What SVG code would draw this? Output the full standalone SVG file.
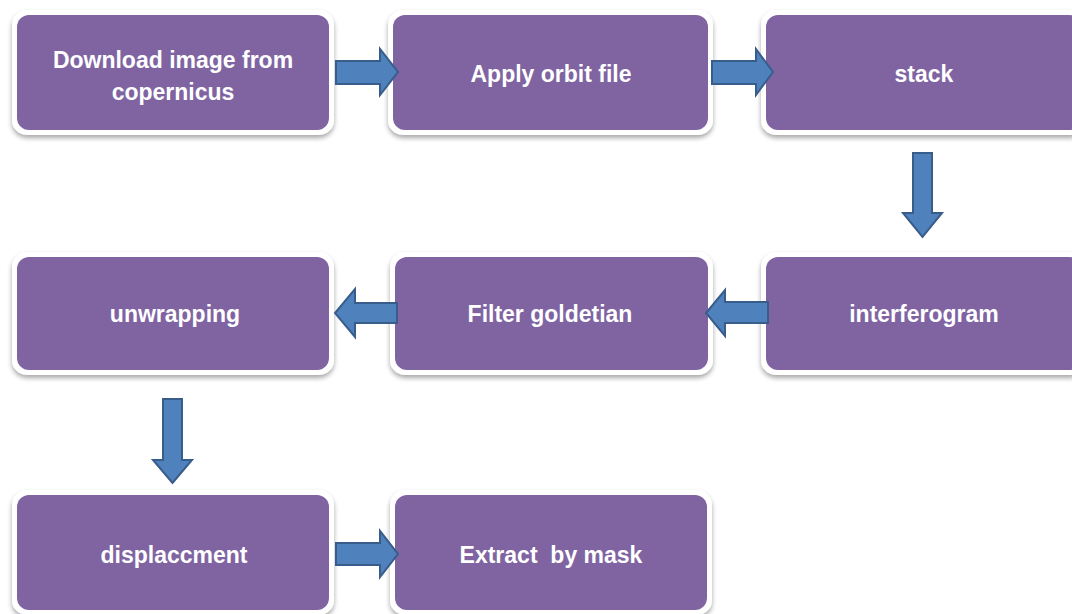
<svg xmlns="http://www.w3.org/2000/svg" width="1072" height="614" viewBox="0 0 1072 614">
<defs>
<filter id="sh" x="-10%" y="-10%" width="120%" height="130%">
<feGaussianBlur in="SourceAlpha" stdDeviation="2.5"/>
<feOffset dx="0" dy="3" result="b"/>
<feComponentTransfer><feFuncA type="linear" slope="0.35"/></feComponentTransfer>
<feMerge><feMergeNode/><feMergeNode in="SourceGraphic"/></feMerge>
</filter>
</defs>
<style>
.frame{fill:#ffffff;filter:url(#sh)}
.box{fill:#8064A2}
.lbl{font-family:"Liberation Sans",Arial,sans-serif;font-weight:bold;font-size:23px;fill:#ffffff;text-anchor:middle}
.arr{fill:#4F81BD;stroke:#385D8A;stroke-width:2;stroke-linejoin:miter}
</style>
<rect width="1072" height="614" fill="#ffffff"/>
<g id="n1"><rect class="frame" x="12" y="10" width="322" height="125" rx="15"/><rect class="box" x="17" y="15" width="312" height="115" rx="12"/><text class="lbl" x="173" y="68">Download image from</text><text class="lbl" x="173" y="100">copernicus</text></g>
<g id="n2"><rect class="frame" x="388" y="10" width="325" height="125" rx="15"/><rect class="box" x="393" y="15" width="315" height="115" rx="12"/><text class="lbl" x="551" y="82">Apply orbit file</text></g>
<g id="n3"><rect class="frame" x="761" y="10" width="325" height="125" rx="15"/><rect class="box" x="766" y="15" width="315" height="115" rx="12"/><text class="lbl" x="924" y="82">stack</text></g>
<g id="n4"><rect class="frame" x="12" y="252" width="322" height="123" rx="15"/><rect class="box" x="17" y="257" width="312" height="113" rx="12"/><text class="lbl" x="175" y="322">unwrapping</text></g>
<g id="n5"><rect class="frame" x="390" y="252" width="323" height="123" rx="15"/><rect class="box" x="395" y="257" width="313" height="113" rx="12"/><text class="lbl" x="550" y="322">Filter goldetian</text></g>
<g id="n6"><rect class="frame" x="761" y="252" width="325" height="123" rx="15"/><rect class="box" x="766" y="257" width="315" height="113" rx="12"/><text class="lbl" x="924" y="322">interferogram</text></g>
<g id="n7"><rect class="frame" x="12" y="490" width="322" height="125" rx="15"/><rect class="box" x="17" y="495" width="312" height="115" rx="12"/><text class="lbl" x="174" y="563">displaccment</text></g>
<g id="n8"><rect class="frame" x="390" y="490" width="322" height="125" rx="15"/><rect class="box" x="395" y="495" width="312" height="115" rx="12"/><text class="lbl" x="551" y="563" style="white-space:pre">Extract  by mask</text></g>
<g id="connectors">
<polygon class="arr" points="336,61 380,61 380,49 398,72 380,95 380,84 336,84"/>
<polygon class="arr" points="712,61 756,61 756,49 773,72 756,95 756,84 712,84"/>
<polygon class="arr" points="913,153 932,153 932,213 942,213 922.5,237 903,213 913,213"/>
<polygon class="arr" points="768,302 725,302 725,290 706,313 725,336 725,323 768,323"/>
<polygon class="arr" points="397,303 355,303 355,289 335,313 355,337 355,323 397,323"/>
<polygon class="arr" points="163,399 182,399 182,460 192,460 172.5,483 153,460 163,460"/>
<polygon class="arr" points="336,543 380,543 380,531 398,554 380,577 380,565 336,565"/>
</g>
</svg>
